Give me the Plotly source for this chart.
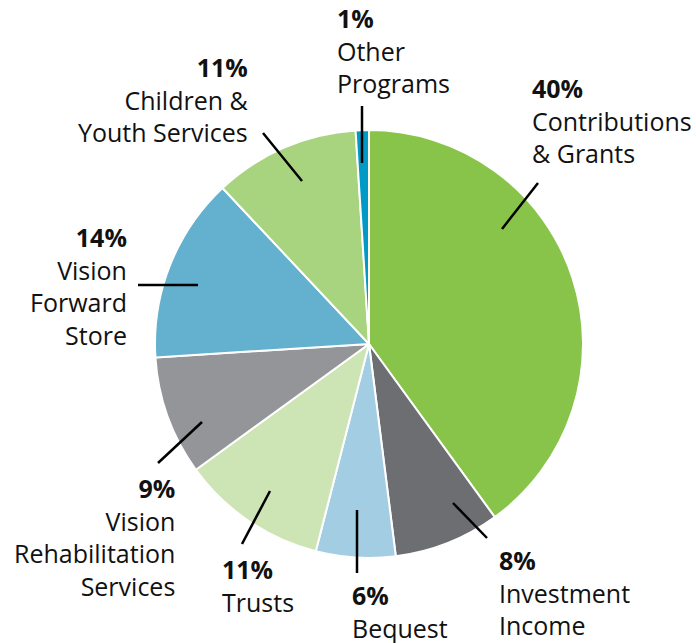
import plotly.graph_objects as go

W, H = 696, 643

# ---- data ----
categories = ["Contributions & Grants", "Investment Income", "Bequest", "Trusts",
              "Vision Rehabilitation Services", "Vision Forward Store",
              "Children & Youth Services", "Other Programs"]
values = [40, 8, 6, 11, 9, 14, 11, 1]
label_lines = [["Contributions", "& Grants"], ["Investment", "Income"], ["Bequest"], ["Trusts"],
               ["Vision", "Rehabilitation", "Services"], ["Vision", "Forward", "Store"],
               ["Children &", "Youth Services"], ["Other", "Programs"]]
colors = ["#89C44A", "#6D6E72", "#A3CDE2", "#CDE4B5", "#939598", "#63B0CF", "#A8D37F", "#0199C6"]

# ---- label layout (pixel positions of text blocks and leader lines) ----
label_pos = [(530, 121, "left"), (497, 592, "left"), (350, 611, "left"), (220, 585, "left"),
             (177, 537, "right"), (129, 286, "right"), (251, 99, "right"), (335, 50, "left")]
leaders = [((538, 183), (502, 229)), ((453, 503), (487, 538)), ((357, 510), (357, 573)),
           ((270, 491), (242, 544)), ((202, 422), (158, 463)), ((138, 285), (198, 285)),
           ((263, 133), (302, 181)), ((362, 106), (362, 163))]

def px(x):
    return x / W

def py(y):
    return 1 - y / H

cx, cy, r = 369, 344, 214

fig = go.Figure(go.Pie(
    labels=categories, values=values, sort=False, direction="clockwise", rotation=0,
    marker=dict(colors=colors, line=dict(color="white", width=2)),
    textinfo="none", hoverinfo="label+percent", showlegend=False,
    domain=dict(x=[px(cx - r), px(cx + r)], y=[py(cy + r), py(cy - r)]),
))

FONT = "Open Sans"
for v, lines, (x, y, side) in zip(values, label_lines, label_pos):
    text = f"<b>{v}%</b><br>" + "<br>".join(lines)
    fig.add_annotation(x=px(x), y=py(y), xref="paper", yref="paper", text=text,
                       showarrow=False, xanchor=side, yanchor="middle", align=side,
                       font=dict(family=FONT, size=25, color="#111111"))

for (x0, y0), (x1, y1) in leaders:
    fig.add_shape(type="line", xref="paper", yref="paper",
                  x0=px(x0), y0=py(y0), x1=px(x1), y1=py(y1),
                  line=dict(color="black", width=2.5))

fig.update_layout(width=W, height=H, margin=dict(l=0, r=0, t=0, b=0),
                  paper_bgcolor="white", plot_bgcolor="white")

fig.write_html("out.html", config={"displayModeBar": False},
               post_script="document.body.style.margin='0';document.body.style.overflow='hidden';")
